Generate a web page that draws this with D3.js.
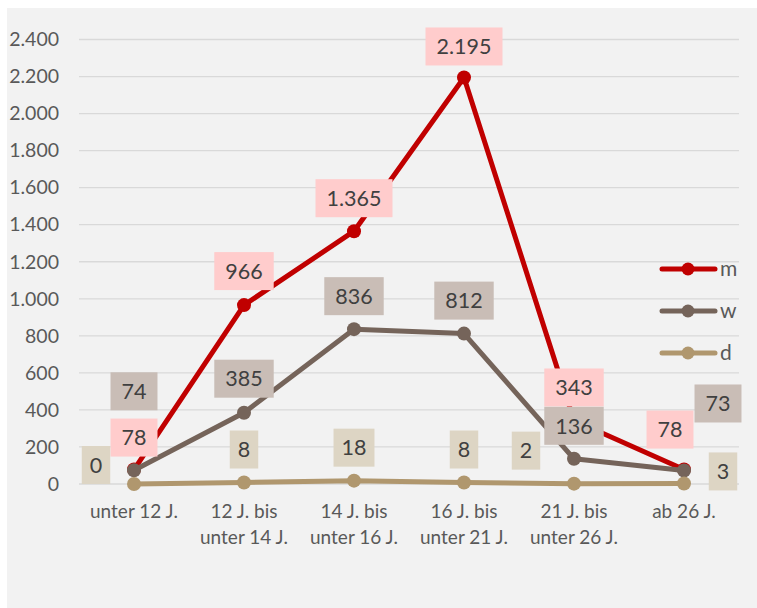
<!DOCTYPE html>
<html>
<head>
<meta charset="utf-8">
<script src="https://cdn.jsdelivr.net/npm/d3@7"></script>
<style>
  html, body { margin: 0; padding: 0; background: #ffffff; }
  svg { display: block; }
</style>
</head>
<body>
<script>
// ---- data ----
const categories = [["unter 12 J."], ["12 J. bis", "unter 14 J."], ["14 J. bis", "unter 16 J."], ["16 J. bis", "unter 21 J."], ["21 J. bis", "unter 26 J."], ["ab 26 J."]];
const seriesNames = ["m", "w", "d"];
const valuesM = [78, 966, 1365, 2195, 343, 78];
const valuesW = [74, 385, 836, 812, 136, 73];
const valuesD = [0, 8, 18, 8, 2, 3];
const yTicks = [0, 200, 400, 600, 800, 1000, 1200, 1400, 1600, 1800, 2000, 2200, 2400];

// ---- presentation (positions / styles) ----
const lineColors = ["#c00000", "#75645a", "#b0976e"];
const labelFills = ["#ffcccc", "#c9bdb6", "#ddd5c4"];
const labelPad = [22, 22, 16];
const labelOffsets = [
  [[0, -32], [0, -34], [0, -33], [0, -31], [0, -33], [-14, -40]],
  [[0, -79], [0, -34], [0, -33], [0, -33], [0, -33], [34, -67]],
  [[-38, -19], [0, -33], [0, -33], [0, -33], [-48, -33], [39, -12]]
];

const W = 757, H = 608;
const svg = d3.select("body").append("svg").attr("width", W).attr("height", H);
svg.append("rect").attr("x", 7).attr("y", 8).attr("width", W - 7).attr("height", H - 8).attr("fill", "#f2f2f2");

const x = d3.scaleBand().domain(d3.range(categories.length)).range([79, 739]);
const cx = i => x(i) + x.bandwidth() / 2;
const y = d3.scaleLinear().domain([0, 2400]).range([484, 39.5]);

const fmt = v => d3.format(",")(v).replace(/,/g, ".");
const FONT = "Lato, 'Open Sans', sans-serif";

// gridlines
svg.append("g").selectAll("line").data(yTicks).join("line")
  .attr("x1", 79).attr("x2", 739)
  .attr("y1", d => y(d)).attr("y2", d => y(d))
  .attr("stroke", "#d9d9d9").attr("stroke-width", 1.3);

// y axis labels
const yAxis = d3.axisLeft(y).tickValues(yTicks).tickFormat(fmt).tickSize(0).tickPadding(0);
const gy = svg.append("g").attr("transform", "translate(59,0)").call(yAxis);
gy.select(".domain").remove();
gy.selectAll("text").attr("font-family", FONT).attr("font-size", 19.5).attr("fill", "#595959");

// x axis labels
const xAxis = d3.axisBottom(x).tickSize(0).tickFormat(() => "");
const gx = svg.append("g").attr("transform", "translate(0,484)").call(xAxis);
gx.select(".domain").remove();
gx.selectAll(".tick").each(function(i) {
  const t = d3.select(this).append("text")
    .attr("text-anchor", "middle").attr("font-family", FONT).attr("font-size", 19).attr("fill", "#595959");
  categories[i].forEach((ln, k) => {
    t.append("tspan").attr("x", 0).attr("y", 34 + k * 26).text(ln);
  });
});

// lines
const allValues = [valuesM, valuesW, valuesD];
const line = d3.line().x((d, i) => cx(i)).y(d => y(d));
allValues.forEach((vals, s) => {
  const g = svg.append("g");
  g.append("path").datum(vals).attr("d", line)
    .attr("fill", "none").attr("stroke", lineColors[s]).attr("stroke-width", 5)
    .attr("stroke-linejoin", "round").attr("stroke-linecap", "round");
  g.selectAll("circle").data(vals).join("circle")
    .attr("cx", (d, i) => cx(i)).attr("cy", d => y(d)).attr("r", 7)
    .attr("fill", lineColors[s]);
});

// data labels
allValues.forEach((vals, s) => {
  const g = svg.append("g");
  vals.forEach((v, i) => {
    const [dx, dy] = labelOffsets[s][i];
    const px = cx(i) + dx, py = y(v) + dy;
    const lg = g.append("g");
    const rect = lg.append("rect").attr("fill", labelFills[s]);
    const txt = lg.append("text").attr("x", px).attr("y", py).attr("dy", "0.36em")
      .attr("text-anchor", "middle").attr("font-family", FONT).attr("font-size", 21.5)
      .attr("fill", "#404040").text(fmt(v));
    const bw = txt.node().getComputedTextLength() + labelPad[s];
    rect.attr("x", px - bw / 2).attr("y", py - 19).attr("width", bw).attr("height", 38);
  });
});

// legend
const legY = [269, 311, 353];
seriesNames.forEach((n, s) => {
  const g = svg.append("g");
  g.append("line").attr("x1", 662).attr("x2", 715).attr("y1", legY[s]).attr("y2", legY[s])
    .attr("stroke", lineColors[s]).attr("stroke-width", 5).attr("stroke-linecap", "round");
  g.append("circle").attr("cx", 688).attr("cy", legY[s]).attr("r", 6.5).attr("fill", lineColors[s]);
  g.append("text").attr("x", 720).attr("y", legY[s]).attr("dy", "0.32em")
    .attr("font-family", FONT).attr("font-size", 21).attr("fill", "#595959").text(n);
});
</script>
</body>
</html>
